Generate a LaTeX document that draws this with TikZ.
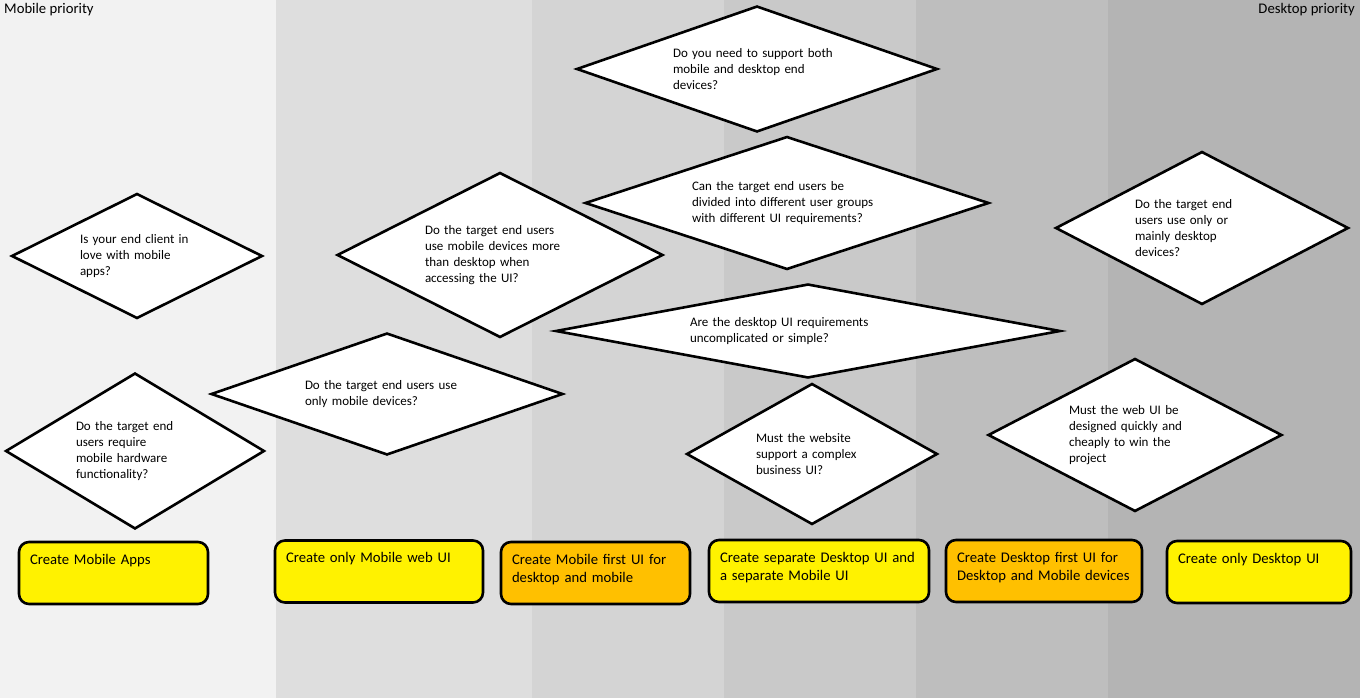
\documentclass[tikz,border=0pt]{standalone}
\usepackage{fontspec}
\setmainfont{Carlito}
\usetikzlibrary{shapes.geometric}
\definecolor{amber}{HTML}{FFC000}
\newcommand{\qfont}{\fontsize{13}{16}\selectfont}
\newcommand{\afont}{\fontsize{14.7}{18}\selectfont}

\begin{document}
\begin{tikzpicture}[x=1pt,y=-1pt]
    \tikzstyle{decision}=[diamond,draw=black,line width=2.6pt,fill=white,inner sep=0pt,align=left,font=\qfont]
    \tikzstyle{answer}=[rectangle,rounded corners=10pt,draw=black,line width=2.6pt,inner xsep=11pt,inner ysep=0pt,text height=22pt,text depth=40pt,align=left,font=\afont]
    \tikzstyle{priority}=[inner sep=0pt,font=\afont]

    \useasboundingbox (0,0) rectangle (1360,698);
    % bands from mobile to desktop
    \foreach \xa/\xb/\tone in {0/276/5, 276/532/13, 532/724/17, 724/916/21, 916/1108/25.5, 1108/1360/29.5}
        \fill[black!\tone] (\xa,0) rectangle (\xb,698);

    \node[priority,anchor=base west] (mobile) at (4,14) {Mobile priority};
    \node[priority,anchor=base east] (desktop) at (1355,14) {Desktop priority};

    % questions
    \node[decision,aspect=2.87,minimum width=361pt,minimum height=126pt,text width=168pt] (Q-both) at (757,69) {Do you need to support both\\mobile and desktop end\\devices?};
    \node[decision,aspect=3.04,minimum width=404pt,minimum height=133pt,text width=190pt] (Q-groups) at (787,203) {Can the target end users be\\divided into different user groups\\with different UI requirements?};
    \node[decision,aspect=1.98,minimum width=326pt,minimum height=165pt,text width=150pt] (Q-more) at (500,255) {Do the target end users\\use mobile devices more\\than desktop when\\accessing the UI?};
    \node[decision,aspect=2.89,minimum width=352pt,minimum height=122pt,text width=164pt] (Q-onlymobile) at (387,394) {Do the target end users use\\only mobile devices?};
    \node[decision,aspect=2.0,minimum width=251pt,minimum height=125pt,text width=114pt] (Q-love) at (137,256) {Is your end client in\\love with mobile\\apps?};
    \node[decision,aspect=1.66,minimum width=259pt,minimum height=156pt,text width=118pt] (Q-hardware) at (135,451) {Do the target end\\users require\\mobile hardware\\functionality?};
    \node[decision,aspect=5.37,minimum width=505pt,minimum height=94pt,text width=236pt] (Q-simple) at (808,331) {Are the desktop UI requirements\\uncomplicated or simple?};
    \node[decision,aspect=1.78,minimum width=251pt,minimum height=141pt,text width=112pt] (Q-complex) at (812,454) {Must the website\\support a complex\\business UI?};
    \node[decision,aspect=1.92,minimum width=293pt,minimum height=153pt,text width=134pt] (Q-onlydesktop) at (1202,228) {Do the target end\\users use only or\\mainly desktop\\devices?};
    \node[decision,aspect=1.92,minimum width=294pt,minimum height=153pt,text width=132pt] (Q-cheap) at (1135,435) {Must the web UI be\\designed quickly and\\cheaply to win the\\project};

    % answers
    \node[answer,fill=yellow,text width=167pt] (A-apps) at (113.5,573) {Create Mobile Apps};
    \node[answer,fill=yellow,text width=186pt] (A-mweb) at (379,571.5) {Create only Mobile web UI};
    \node[answer,fill=amber,text width=167pt] (A-mfirst) at (595.5,573) {Create Mobile first UI for\\desktop and mobile};
    \node[answer,fill=yellow,text width=198pt] (A-separate) at (819,571) {Create separate Desktop UI and\\a separate Mobile UI};
    \node[answer,fill=amber,text width=174pt] (A-dfirst) at (1044,571) {Create Desktop first UI for\\Desktop and Mobile devices};
    \node[answer,fill=yellow,text width=162pt] (A-desktop) at (1259,572) {Create only Desktop UI};
\end{tikzpicture}
\end{document}
